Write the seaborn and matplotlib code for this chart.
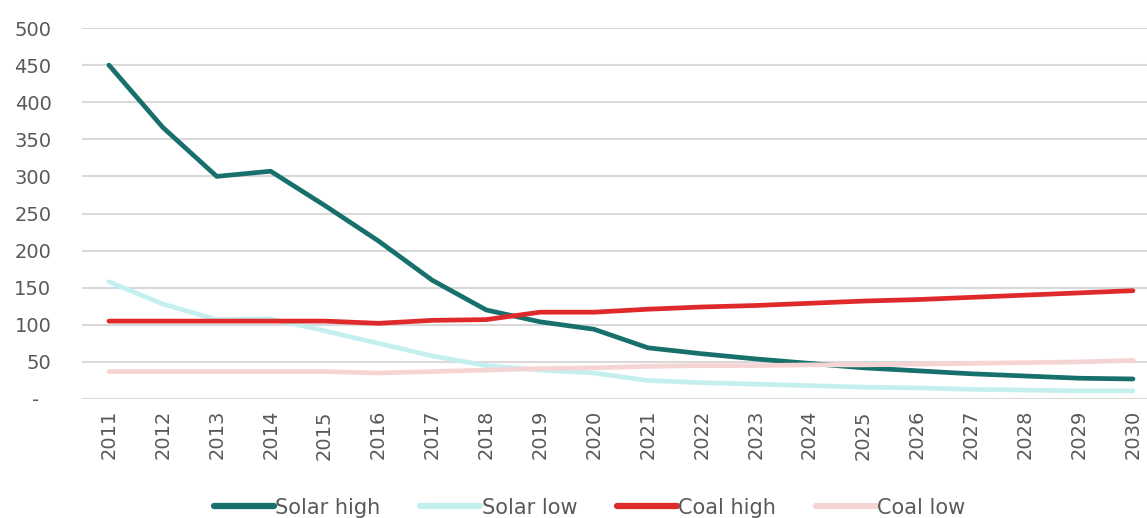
import pandas as pd
import seaborn as sns
import matplotlib.pyplot as plt

years = list(range(2011, 2031))
solar_high = [450, 366, 300, 307, 261, 213, 160, 120, 104, 94, 69, 61, 54, 48, 42, 38, 34, 31, 28, 27]
solar_low = [158, 128, 107, 108, 92, 75, 58, 45, 39, 35, 25, 22, 20, 18, 16, 15, 13, 12, 11, 11]
coal_high = [105, 105, 105, 105, 105, 102, 106, 107, 117, 117, 121, 124, 126, 129, 132, 134, 137, 140, 143, 146]
coal_low = [37, 37, 37, 37, 37, 35, 37, 39, 41, 42, 44, 45, 45, 46, 46, 47, 48, 49, 50, 52]

series_names = ["Solar high", "Solar low", "Coal high", "Coal low"]
colors = ["#17706c", "#c3f0ef", "#e0292b", "#f7d4d4"]

rows = []
for name, vals in zip(series_names, [solar_high, solar_low, coal_high, coal_low]):
    for i, v in enumerate(vals):
        rows.append({"idx": i, "year": years[i], "value": v, "series": name})
df = pd.DataFrame(rows)

sns.set_style("white")
plt.rcParams["font.family"] = ["DejaVu Sans"]

fig = plt.figure(figsize=(11.47, 5.18), dpi=100)
ax = fig.add_axes([82 / 1147, 1 - 399 / 518, (1147 - 82) / 1147, (399 - 28) / 518])

sns.lineplot(data=df, x="idx", y="value", hue="series", hue_order=series_names,
             palette=colors, linewidth=3.4, ax=ax, legend=False,
             solid_capstyle="round")

ax.set_ylim(0, 500)
ax.set_xlim(-0.5, 19.26)
ax.set_yticks(range(0, 501, 50))
ax.set_yticklabels(["-  "] + [str(v) for v in range(50, 501, 50)])
ax.set_xticks(range(len(years)))
ax.set_xticklabels([str(y) for y in years], rotation=90)
ax.tick_params(axis="both", labelsize=14, colors="#595959", length=0)
ax.tick_params(axis="y", pad=22)
ax.tick_params(axis="x", pad=8)
ax.yaxis.grid(True, color="#d9d9d9", linewidth=1.5)
ax.xaxis.grid(False)
ax.set_axisbelow(True)
for s in ax.spines.values():
    s.set_visible(False)
ax.set_xlabel("")
ax.set_ylabel("")

handles = [plt.Line2D([0], [0], color=c, linewidth=4.5, solid_capstyle="round") for c in colors]
fig.legend(handles, series_names, loc="center", bbox_to_anchor=(0.514, 0.02), ncol=4,
           frameon=False, fontsize=15, handlelength=2.9, handletextpad=0.05,
           columnspacing=1.9, labelcolor="#595959")

fig.savefig("out.png", dpi=100)
